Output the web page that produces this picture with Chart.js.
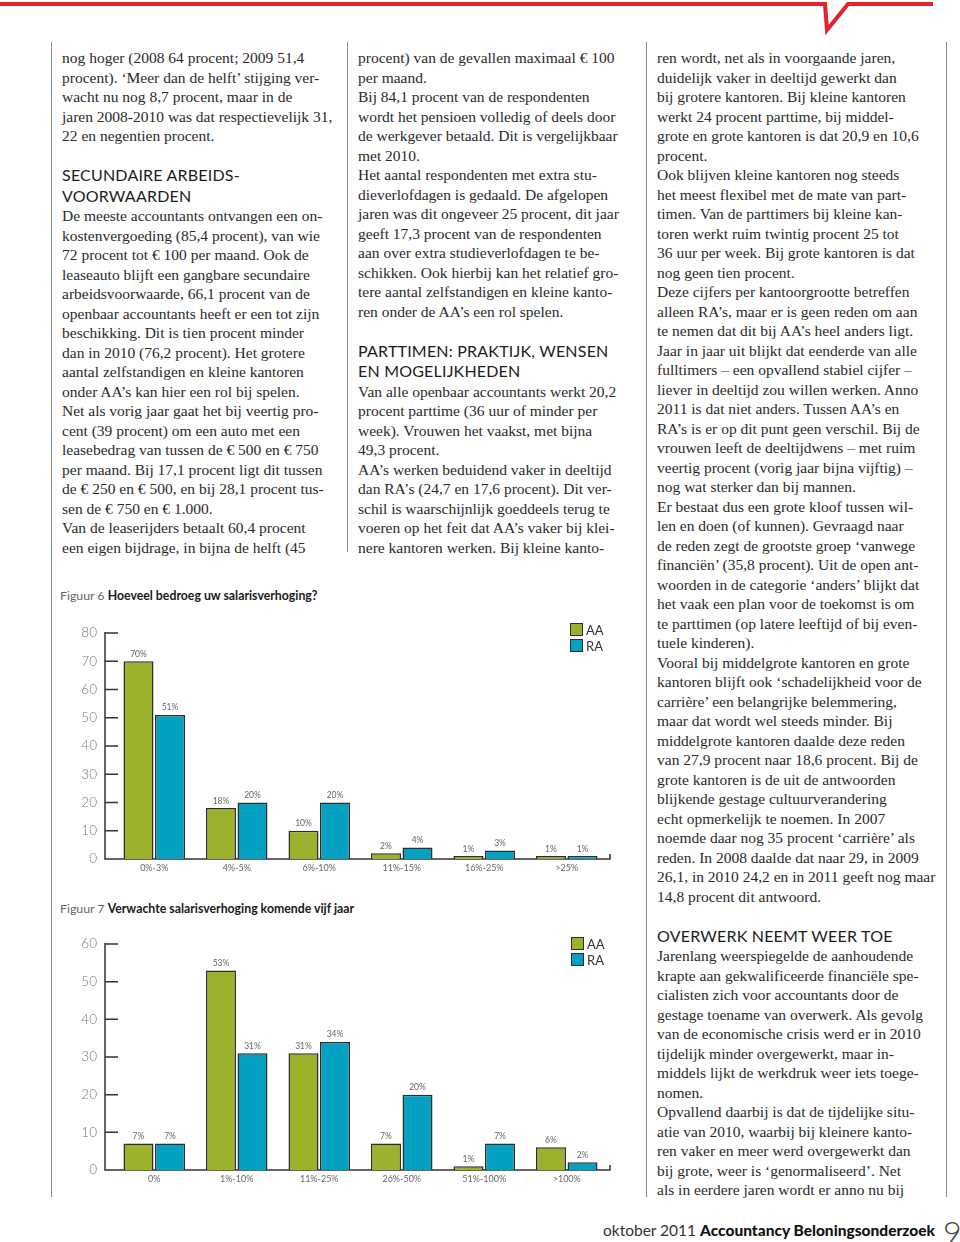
<!DOCTYPE html>
<html>
<head>
<meta charset="utf-8">
<script src="https://cdn.jsdelivr.net/npm/chart.js@4"></script>
<style>
  html, body { margin: 0; padding: 0; background: #fff; }
  body { width: 960px; height: 1242px; position: relative; overflow: hidden; }
  .vline { position: absolute; width: 1px; background: #8a8a8a; }
  .col { position: absolute; font-family: "Liberation Serif", serif; font-size: 15.5px; line-height: 19.5px; color: #2a2a2a; white-space: nowrap; }
  .h { font-family: Lato, sans-serif; font-size: 16px; color: #1c1c1c; letter-spacing: 0.2px; }
  .figtitle { position: absolute; font-family: Lato, sans-serif; font-size: 12.3px; color: #666; white-space: nowrap; }
  .figtitle b { color: #1a1a1a; }
  .legend { position: absolute; font-family: Lato, sans-serif; font-size: 13px; color: #333; line-height: 16px; }
  .legend span.sw { display: inline-block; width: 11px; height: 11px; border: 1px solid #2d2d2d; vertical-align: -1px; margin-right: 3px; }
  .footer { position: absolute; left: 603px; top: 1221px; font-family: Lato, sans-serif; font-size: 15.5px; color: #333; white-space: nowrap; }
  .footer b { color: #111; font-weight: 900; }
  .pagenr { position: absolute; left: 943px; top: 1212px; font-family: Lato, sans-serif; font-weight: 300; font-size: 32px; color: #444; }
  canvas { position: absolute; }
</style>
</head>
<body>

<svg style="position:absolute;left:0;top:0" width="960" height="40">
  <polyline points="0,4 825,4 827,30 848,4 933,4" fill="none" stroke="#e2232a" stroke-width="4" stroke-linejoin="miter"/>
</svg>

<div class="vline" style="left:51px;top:42px;height:1155px"></div>
<div class="vline" style="left:347px;top:42px;height:510px"></div>
<div class="vline" style="left:646px;top:42px;height:1155px"></div>
<div class="vline" style="left:946px;top:42px;height:1155px"></div>

<div class="col" style="left:62px;top:48px">
nog hoger (2008 64 procent; 2009 51,4<br>
procent). ‘Meer dan de helft’ stijging ver-<br>
wacht nu nog 8,7 procent, maar in de<br>
jaren 2008-2010 was dat respectievelijk 31,<br>
22 en negentien procent.<br>
&nbsp;<br>
<span class="h">SECUNDAIRE ARBEIDS-</span><br>
<span class="h">VOORWAARDEN</span><br>
De meeste accountants ontvangen een on-<br>
kostenvergoeding (85,4 procent), van wie<br>
72 procent tot € 100 per maand. Ook de<br>
leaseauto blijft een gangbare secundaire<br>
arbeidsvoorwaarde, 66,1 procent van de<br>
openbaar accountants heeft er een tot zijn<br>
beschikking. Dit is tien procent minder<br>
dan in 2010 (76,2 procent). Het grotere<br>
aantal zelfstandigen en kleine kantoren<br>
onder AA’s kan hier een rol bij spelen.<br>
Net als vorig jaar gaat het bij veertig pro-<br>
cent (39 procent) om een auto met een<br>
leasebedrag van tussen de € 500 en € 750<br>
per maand. Bij 17,1 procent ligt dit tussen<br>
de € 250 en € 500, en bij 28,1 procent tus-<br>
sen de € 750 en € 1.000.<br>
Van de leaserijders betaalt 60,4 procent<br>
een eigen bijdrage, in bijna de helft (45
</div>

<div class="col" style="left:358px;top:48px">
procent) van de gevallen maximaal € 100<br>
per maand.<br>
Bij 84,1 procent van de respondenten<br>
wordt het pensioen volledig of deels door<br>
de werkgever betaald. Dit is vergelijkbaar<br>
met 2010.<br>
Het aantal respondenten met extra stu-<br>
dieverlofdagen is gedaald. De afgelopen<br>
jaren was dit ongeveer 25 procent, dit jaar<br>
geeft 17,3 procent van de respondenten<br>
aan over extra studieverlofdagen te be-<br>
schikken. Ook hierbij kan het relatief gro-<br>
tere aantal zelfstandigen en kleine kanto-<br>
ren onder de AA’s een rol spelen.<br>
&nbsp;<br>
<span class="h">PARTTIMEN: PRAKTIJK, WENSEN</span><br>
<span class="h">EN MOGELIJKHEDEN</span><br>
Van alle openbaar accountants werkt 20,2<br>
procent parttime (36 uur of minder per<br>
week). Vrouwen het vaakst, met bijna<br>
49,3 procent.<br>
AA’s werken beduidend vaker in deeltijd<br>
dan RA’s (24,7 en 17,6 procent). Dit ver-<br>
schil is waarschijnlijk goeddeels terug te<br>
voeren op het feit dat AA’s vaker bij klei-<br>
nere kantoren werken. Bij kleine kanto-
</div>

<div class="col" style="left:657px;top:48px">
ren wordt, net als in voorgaande jaren,<br>
duidelijk vaker in deeltijd gewerkt dan<br>
bij grotere kantoren. Bij kleine kantoren<br>
werkt 24 procent parttime, bij middel-<br>
grote en grote kantoren is dat 20,9 en 10,6<br>
procent.<br>
Ook blijven kleine kantoren nog steeds<br>
het meest flexibel met de mate van part-<br>
timen. Van de parttimers bij kleine kan-<br>
toren werkt ruim twintig procent 25 tot<br>
36 uur per week. Bij grote kantoren is dat<br>
nog geen tien procent.<br>
Deze cijfers per kantoorgrootte betreffen<br>
alleen RA’s, maar er is geen reden om aan<br>
te nemen dat dit bij AA’s heel anders ligt.<br>
Jaar in jaar uit blijkt dat eenderde van alle<br>
fulltimers – een opvallend stabiel cijfer –<br>
liever in deeltijd zou willen werken. Anno<br>
2011 is dat niet anders. Tussen AA’s en<br>
RA’s is er op dit punt geen verschil. Bij de<br>
vrouwen leeft de deeltijdwens – met ruim<br>
veertig procent (vorig jaar bijna vijftig) –<br>
nog wat sterker dan bij mannen.<br>
Er bestaat dus een grote kloof tussen wil-<br>
len en doen (of kunnen). Gevraagd naar<br>
de reden zegt de grootste groep ‘vanwege<br>
financiën’ (35,8 procent). Uit de open ant-<br>
woorden in de categorie ‘anders’ blijkt dat<br>
het vaak een plan voor de toekomst is om<br>
te parttimen (op latere leeftijd of bij even-<br>
tuele kinderen).<br>
Vooral bij middelgrote kantoren en grote<br>
kantoren blijft ook ‘schadelijkheid voor de<br>
carrière’ een belangrijke belemmering,<br>
maar dat wordt wel steeds minder. Bij<br>
middelgrote kantoren daalde deze reden<br>
van 27,9 procent naar 18,6 procent. Bij de<br>
grote kantoren is de uit de antwoorden<br>
blijkende gestage cultuurverandering<br>
echt opmerkelijk te noemen. In 2007<br>
noemde daar nog 35 procent ‘carrière’ als<br>
reden. In 2008 daalde dat naar 29, in 2009<br>
26,1, in 2010 24,2 en in 2011 geeft nog maar<br>
14,8 procent dit antwoord.<br>
&nbsp;<br>
<span class="h">OVERWERK NEEMT WEER TOE</span><br>
Jarenlang weerspiegelde de aanhoudende<br>
krapte aan gekwalificeerde financiële spe-<br>
cialisten zich voor accountants door de<br>
gestage toename van overwerk. Als gevolg<br>
van de economische crisis werd er in 2010<br>
tijdelijk minder overgewerkt, maar in-<br>
middels lijkt de werkdruk weer iets toege-<br>
nomen.<br>
Opvallend daarbij is dat de tijdelijke situ-<br>
atie van 2010, waarbij bij kleinere kanto-<br>
ren vaker en meer werd overgewerkt dan<br>
bij grote, weer is ‘genormaliseerd’. Net<br>
als in eerdere jaren wordt er anno nu bij
</div>

<div class="figtitle" style="left:60px;top:588px">Figuur 6 <b>Hoeveel bedroeg uw salarisverhoging?</b></div>
<canvas id="fig6" width="570" height="274" style="left:52px;top:609px"></canvas>
<div class="legend" style="left:570px;top:622px">
  <div><span class="sw" style="background:#9db12c"></span>AA</div>
  <div><span class="sw" style="background:#05a1c2"></span>RA</div>
</div>

<div class="figtitle" style="left:60px;top:901px">Figuur 7 <b>Verwachte salarisverhoging komende vijf jaar</b></div>
<canvas id="fig7" width="570" height="274" style="left:52px;top:920px"></canvas>
<div class="legend" style="left:571px;top:936px">
  <div><span class="sw" style="background:#9db12c"></span>AA</div>
  <div><span class="sw" style="background:#05a1c2"></span>RA</div>
</div>

<div class="footer">oktober 2011 <b>Accountancy Beloningsonderzoek</b></div>
<div class="pagenr">9</div>

<script>
// Figuur 6: salarisverhoging dit jaar
const categories6 = ['0%-3%', '4%-5%', '6%-10%', '11%-15%', '16%-25%', '>25%'];
const aa6 = [70, 18, 10, 2, 1, 1];
const ra6 = [51, 20, 20, 4, 3, 1];
const yMax6 = 80;

// Figuur 7: verwachte salarisverhoging komende vijf jaar
const categories7 = ['0%', '1%-10%', '11%-25%', '26%-50%', '51%-100%', '>100%'];
const aa7 = [7, 53, 31, 7, 1, 6];
const ra7 = [7, 31, 34, 20, 7, 2];
const yMax7 = 60;

const seriesNames = ['AA', 'RA'];
const green = '#9db12c';
const blue = '#05a1c2';
const edge = '#2d2d2d';

// assen tekenen zoals in het blad: streepjes naar binnen
const axisPlugin = {
    id: 'axisPlugin',
    beforeDatasetsDraw(chart) {
        const ctx = chart.ctx;
        const area = chart.chartArea;
        const y = chart.scales.y;
        const x0 = area.left - 8;
        ctx.save();
        ctx.strokeStyle = '#333';
        ctx.lineWidth = 1.5;
        ctx.beginPath();
        ctx.moveTo(x0, area.top - 1);
        ctx.lineTo(x0, area.bottom);
        ctx.lineTo(area.right + 2, area.bottom);
        ctx.lineTo(area.right + 2, area.bottom - 5);
        y.ticks.forEach(t => {
            const py = y.getPixelForValue(t.value);
            if (t.value > 0) {
                ctx.moveTo(x0, py);
                ctx.lineTo(x0 + 13, py);
            }
        });
        ctx.stroke();
        ctx.restore();
    },
    afterDatasetsDraw(chart) {
        const ctx = chart.ctx;
        ctx.save();
        ctx.font = '8.5px Lato, sans-serif';
        ctx.fillStyle = '#666';
        ctx.textAlign = 'center';
        ctx.textBaseline = 'bottom';
        chart.data.datasets.forEach((ds, i) => {
            chart.getDatasetMeta(i).data.forEach((bar, j) => {
                ctx.fillText(ds.data[j] + '%', bar.x, bar.y - 3);
            });
        });
        ctx.restore();
    }
};

function makeChart(id, labels, aa, ra, yMax) {
    let ctx = document.getElementById(id).getContext('2d');
    return new Chart(ctx, {
        type: 'bar',
        data: {
            labels: labels,
            datasets: [{
                label: seriesNames[0],
                data: aa,
                backgroundColor: green,
                borderColor: edge,
                borderWidth: 1.5
            }, {
                label: seriesNames[1],
                data: ra,
                backgroundColor: blue,
                borderColor: edge,
                borderWidth: 1.5
            }]
        },
        options: {
            responsive: false,
            animation: false,
            categoryPercentage: 0.764,
            barPercentage: 0.952,
            layout: { padding: { top: 20, right: 14, bottom: 0, left: 0 } },
            plugins: {
                legend: { display: false },
                tooltip: { enabled: false }
            },
            scales: {
                x: {
                    grid: { display: false, drawTicks: false },
                    border: { display: false },
                    ticks: {
                        color: '#666',
                        font: { family: 'Lato', size: 9 },
                        padding: 4,
                        maxRotation: 0
                    },
                    afterFit: s => { s.height = 22; }
                },
                y: {
                    min: 0,
                    max: yMax,
                    grid: { display: false, drawTicks: false },
                    border: { display: false },
                    ticks: {
                        stepSize: 10,
                        color: '#777',
                        font: { family: 'Lato', size: 13.5, weight: '300' },
                        padding: 16
                    },
                    afterFit: s => { s.width = 61; }
                }
            }
        },
        plugins: [axisPlugin]
    });
}

makeChart('fig6', categories6, aa6, ra6, yMax6);
makeChart('fig7', categories7, aa7, ra7, yMax7);
</script>
</body>
</html>
